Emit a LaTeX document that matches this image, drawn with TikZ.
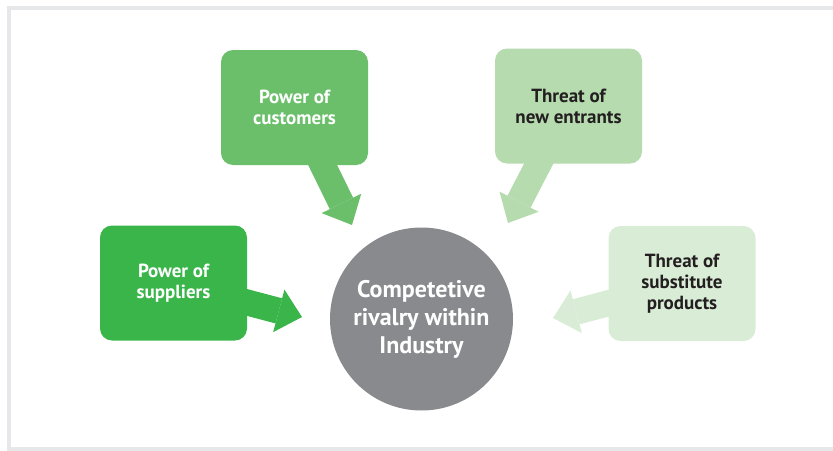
\documentclass[tikz,border=0pt]{standalone}
\usepackage{fontspec}
\setmainfont{PT Sans}
\usetikzlibrary{arrows.meta,backgrounds}

\definecolor{framegray}{RGB}{230,231,232}
\definecolor{supgreen}{RGB}{57,181,74}
\definecolor{cusgreen}{RGB}{107,191,106}
\definecolor{entgreen}{RGB}{181,219,175}
\definecolor{subgreen}{RGB}{217,237,214}
\definecolor{rivalgray}{RGB}{137,138,141}
\definecolor{darktext}{RGB}{35,31,32}

\begin{document}
\begin{tikzpicture}[x=1pt,y=-1pt,
    force/.style={rounded corners=12pt, minimum width=147pt, minimum height=115pt,
        inner sep=0pt, align=center, font=\bfseries\fontsize{19}{21}\selectfont},
    push/.style={line width=26pt, -{Triangle[length=24pt,width=44pt,line width=0pt]}}]
    \useasboundingbox (0,0) rectangle (833,450);
    \draw[line width=4pt, framegray] (9,7.5) rectangle (860,448.5);

    % forces
    \node[force, fill=supgreen, text=white] (sup) at (173.5,283) {Power of\\suppliers};
    \node[force, fill=cusgreen, text=white] (cus) at (294.5,107.5) {Power of\\customers};
    \node[force, fill=entgreen, text=darktext] (ent) at (568.5,106) {Threat of\\new entrants};
    \node[force, fill=subgreen, text=darktext] (sub) at (682,283.5) {Threat of\\substitute\\products};

    % centre
    \node[circle, fill=rivalgray, text=white, minimum size=183pt, inner sep=0pt,
        align=center, font=\bfseries\fontsize{24}{28}\selectfont] (rival) at (421.5,319)
        {Competetive\\rivalry within\\Industry};

    \coordinate (supTip) at (302,317);
    \coordinate (cusTip) at (352,225);
    \coordinate (entTip) at (508,223);
    \coordinate (subTip) at (553,318);

    \begin{scope}[on background layer]
        \draw[push, supgreen] (sup.center) -- (supTip);
        \draw[push, cusgreen] (cus.center) -- (cusTip);
        \draw[push, entgreen] (ent.center) -- (entTip);
        \draw[push, subgreen] (sub.center) -- (subTip);
    \end{scope}
\end{tikzpicture}
\end{document}
